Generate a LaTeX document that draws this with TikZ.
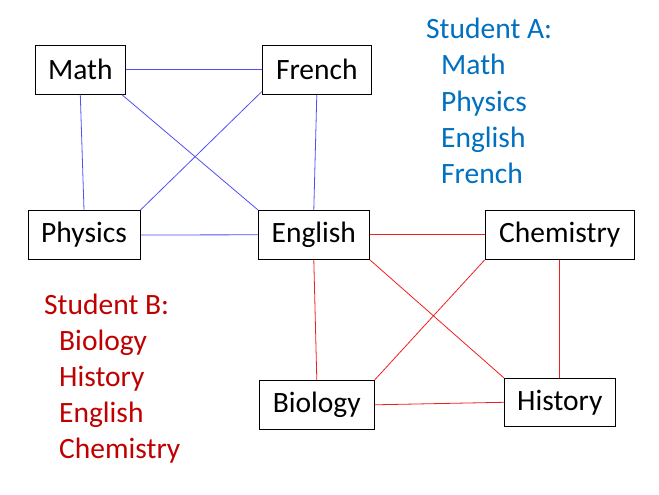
\documentclass[tikz,border=0pt]{standalone}
\usepackage{fontspec}
\setmainfont{Carlito}
\usetikzlibrary{positioning}
\definecolor{linkA}{RGB}{80,80,245}
\definecolor{linkB}{RGB}{240,30,30}
\definecolor{textA}{RGB}{0,112,192}
\definecolor{textB}{RGB}{192,0,0}

\begin{document}
\begin{tikzpicture}[x=1pt, y=-1pt,
    subj/.style={draw, line width=1pt, inner sep=0pt, minimum height=49pt,
                 font=\fontsize{29.5}{35}\selectfont},
    edgeA/.style={linkA, line width=0.8pt},
    edgeB/.style={linkB, line width=0.8pt},
    listtext/.style={anchor=base west, inner sep=0pt, font=\fontsize{29.5}{35}\selectfont}]
    \useasboundingbox (0,0) rectangle (659,495);
    % subjects
    \node[subj, minimum width=90pt]  (math)  at (80.3,69.6)  {Math};
    \node[subj, minimum width=109pt] (french) at (316.8,69.6) {French};
    \node[subj, minimum width=112pt] (physics) at (84,235) {Physics};
    \node[subj, minimum width=111pt] (english) at (313.8,234.8) {English};
    \node[subj, minimum width=149pt] (chem) at (559.8,234.8) {Chemistry};
    \node[subj, minimum width=115pt] (bio) at (316.8,404.8) {Biology};
    \node[subj, minimum width=111pt, minimum height=48pt] (hist) at (559.8,402.3) {History};
    % student A links
    \draw[edgeA] (math.east) -- (french.west);
    \draw[edgeA] (math.south) -- (physics.north);
    \draw[edgeA] ([xshift=-4pt]math.south east) -- (english.north west);
    \draw[edgeA] ([yshift=3pt]french.south west) -- (physics.north east);
    \draw[edgeA] (french.south) -- (english.north);
    \draw[edgeA] (physics.east) -- (english.west);
    % student B links
    \draw[edgeB] (english.east) -- (chem.west);
    \draw[edgeB] (english.south) -- (bio.north);
    \draw[edgeB] (english.south east) -- (hist.north west);
    \draw[edgeB] (chem.south west) -- (bio.north east);
    \draw[edgeB] (chem.south) -- (hist.north);
    \draw[edgeB] (bio.east) -- (hist.west);
    % students
    \node[listtext, textA] (stuA) at (426,39) {Student A:};
    \foreach \s [count=\i] in {Math,Physics,English,French}
        \node[listtext, textA] (stuA\i) at (441,{39+36*\i}) {\s};
    \node[listtext, textB] (stuB) at (44,314) {Student B:};
    \foreach \s [count=\i] in {Biology,History,English,Chemistry}
        \node[listtext, textB] (stuB\i) at (59,{314+36*\i}) {\s};
\end{tikzpicture}
\end{document}
